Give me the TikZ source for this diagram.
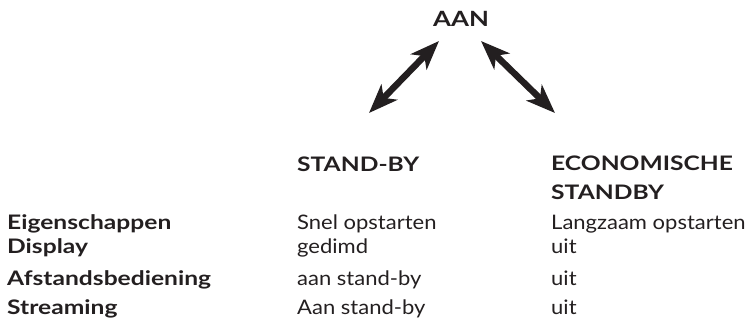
\documentclass[tikz,border=0pt]{standalone}
\usepackage{fontspec}
\setmainfont{Lato}[FakeStretch=1.1, BoldFeatures={FakeStretch=1.23}]
\usetikzlibrary{positioning,arrows.meta}
\definecolor{TVink}{HTML}{231F20}

\begin{document}
\begin{tikzpicture}[x=1pt, y=-1pt,
  head/.style={font=\fontsize{20}{29}\selectfont\bfseries, text=TVink, anchor=base west, inner sep=0pt, align=left},
  rowlabel/.style={font=\fontsize{20}{24}\selectfont\bfseries, text=TVink, anchor=base west, inner sep=0pt},
  cell/.style={font=\fontsize{20}{24}\selectfont, text=TVink, anchor=base west, inner sep=0pt},
  twoway/.style={{Stealth[length=29pt,width=22pt,inset=8pt]}-{Stealth[length=29pt,width=22pt,inset=8pt]}, line width=6.5pt, TVink}]
\useasboundingbox (0,0) rectangle (747,333);
\node[font=\fontsize{21}{24}\selectfont\bfseries, text=TVink, inner sep=0pt, anchor=base] (aan) at (461,26) {AAN};
\coordinate (aanL) at (439,41);
\coordinate (aanR) at (481,41);
\coordinate (toStby) at (369,113);
\coordinate (toEco) at (555,113);
\draw[twoway] (aanL) -- (toStby);
\draw[twoway] (aanR) -- (toEco);
% column heads
\node[head] (stby) at (297,171) {STAND-BY};
\node[head, anchor=north west] (eco) at (551,155.5) {ECONOMISCHE\\STANDBY};
% rows
\node[rowlabel] (eigen) at (7,229) {Eigenschappen};
\node[cell] (eigenA) at (297,229) {Snel opstarten};
\node[cell] (eigenB) at (551,229) {Langzaam opstarten};
\node[rowlabel] (disp) at (7,253) {Display};
\node[cell] (dispA) at (297,253) {gedimd};
\node[cell] (dispB) at (551,253) {uit};
\node[rowlabel] (afst) at (7,285) {Afstandsbediening};
\node[cell] (afstA) at (297,285) {aan stand-by};
\node[cell] (afstB) at (551,285) {uit};
\node[rowlabel] (strm) at (7,314) {Streaming};
\node[cell] (strmA) at (297,314) {Aan stand-by};
\node[cell] (strmB) at (551,314) {uit};
\end{tikzpicture}
\end{document}
